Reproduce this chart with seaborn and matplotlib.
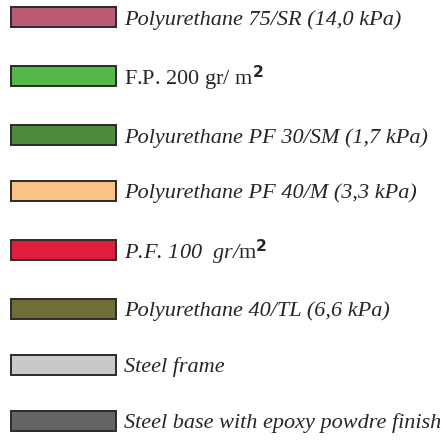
import matplotlib
matplotlib.use("Agg")
import matplotlib.pyplot as plt
import seaborn as sns
from matplotlib.patches import Patch

# legend entries (top to bottom)
labels = [
    "Polyurethane 75/SR (14,0 kPa)",
    r"F.P. 200 gr/ m$^{\mathbf{2}}$",
    "Polyurethane PF 30/SM (1,7 kPa)",
    "Polyurethane PF 40/M (3,3 kPa)",
    r"P.F. 100  gr/$\mathrm{m}^{\mathbf{2}}$",
    "Polyurethane 40/TL (6,6 kPa)",
    "Steel frame",
    "Steel base with epoxy powdre finish",
]
colors = ["#B95B75", "#54B848", "#4B8B3B", "#FAC285",
          "#DE1E3C", "#6F6E37", "#C9C9C9", "#646464"]

sns.set_theme(style="white")
plt.rcParams["font.family"] = ["Liberation Serif", "DejaVu Serif"]
plt.rcParams["mathtext.fontset"] = "custom"
plt.rcParams["mathtext.rm"] = "Liberation Serif"
plt.rcParams["mathtext.it"] = "Liberation Serif:italic"
plt.rcParams["mathtext.bf"] = "DejaVu Sans:bold"

palette = sns.color_palette(colors)
handles = [Patch(facecolor=c, edgecolor="#2b2b2b", linewidth=1.4)
           for c in palette]

fig = plt.figure(figsize=(4.46, 4.42), dpi=100)
leg = fig.legend(handles, labels, loc="upper left",
                 bbox_to_anchor=(11 / 446, 1 - 7 / 442),
                 bbox_transform=fig.transFigure, frameon=False,
                 borderpad=0, borderaxespad=0,
                 prop={"family": "Liberation Serif", "style": "italic",
                       "size": 16},
                 handlelength=4.73, handleheight=1.0,
                 handletextpad=0.36, labelspacing=1.5)
leg.get_texts()[1].set_style("normal")

fig.savefig("out.png", dpi=100)
